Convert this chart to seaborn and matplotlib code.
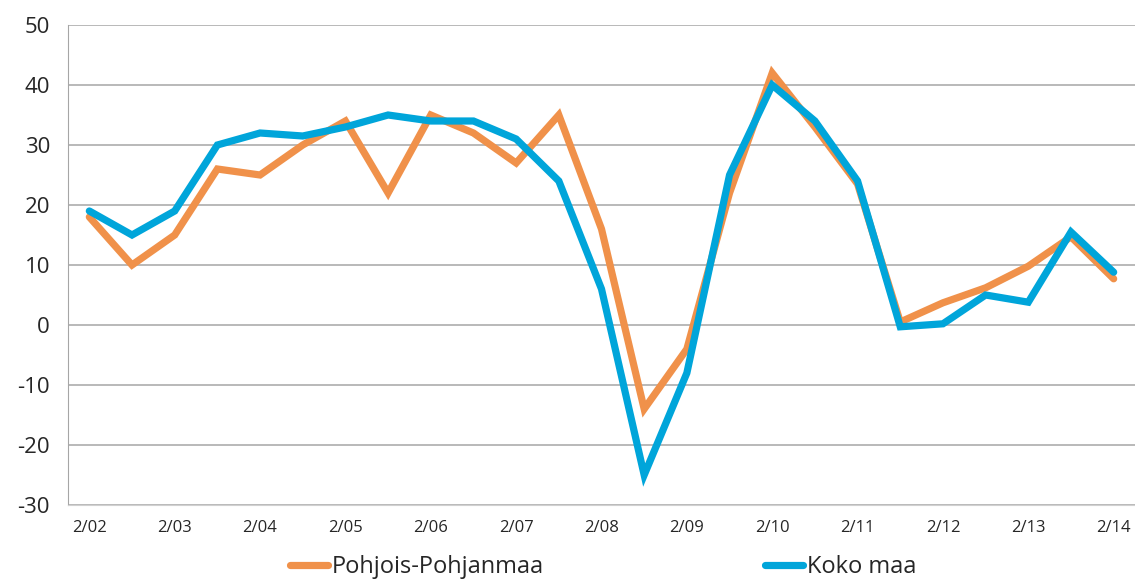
import numpy as np
import pandas as pd
import matplotlib
matplotlib.use("Agg")
import matplotlib.pyplot as plt
import seaborn as sns

# half-year observations, labelled every other point
labels = ["2/02", "", "2/03", "", "2/04", "", "2/05", "", "2/06", "", "2/07", "",
          "2/08", "", "2/09", "", "2/10", "", "2/11", "", "2/12", "", "2/13", "", "2/14"]
pohjois = [18, 10, 15, 26, 25, 30, 34, 22, 35, 32, 27, 35, 16, -14, -4, 22,
           42, 33, 23.5, 0.5, 3.7, 6.2, 9.8, 14.7, 7.7]
koko = [19, 15, 19, 30, 32, 31.5, 33, 35, 34, 34, 31, 24, 6, -25, -8, 25,
        40, 34, 24, -0.3, 0.2, 5, 3.8, 15.5, 8.8]
series_names = ["Pohjois-Pohjanmaa", "Koko maa"]
colors = ["#F0914A", "#00A5DA"]

n = len(labels)
df = pd.DataFrame({
    "idx": list(range(n)) * 2,
    "value": pohjois + koko,
    "series": [series_names[0]] * n + [series_names[1]] * n,
})

sns.set_style("white")
plt.rcParams["font.family"] = ["Open Sans", "DejaVu Sans"]
plt.rcParams["axes.unicode_minus"] = False

fig = plt.figure(figsize=(11.35, 5.79), dpi=100)
ax = fig.add_axes([68 / 1135, 1 - 505 / 579, 1 - 68 / 1135, 480 / 579])

sns.lineplot(data=df, x="idx", y="value", hue="series", palette=colors,
             linewidth=5.2, ax=ax, legend=True, solid_joinstyle="miter")

ax.set_xlim(-0.5, n - 0.5)
ax.set_ylim(-30, 50)
ax.set_yticks(range(-30, 51, 10))
ax.set_xticks(range(n))
ax.set_xticklabels(labels, fontsize=12)
ax.tick_params(axis="y", labelsize=16, length=0, pad=13)
ax.tick_params(axis="x", length=0, pad=11)
ax.set_xlabel("")
ax.set_ylabel("")

ax.grid(axis="y", color="#A6A6A6", linewidth=1.1)
ax.grid(axis="x", visible=False)
ax.set_axisbelow(True)
for s in ["top", "right"]:
    ax.spines[s].set_visible(False)
ax.spines["left"].set_color("#A6A6A6")
ax.spines["bottom"].set_color("#D0D0D0")

handles, lbls = ax.get_legend_handles_labels()
ax.legend(handles, lbls, loc="center", bbox_to_anchor=(603 / 1135, 1 - 567 / 579),
          bbox_transform=fig.transFigure, ncol=2, frameon=False, fontsize=17,
          handlelength=1.6, handletextpad=0.15, columnspacing=9.4,
          borderpad=0)

fig.savefig("out.png", dpi=100)
